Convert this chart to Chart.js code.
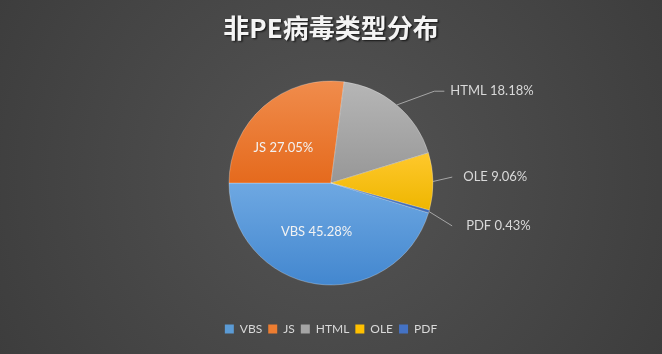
<!DOCTYPE html>
<html><head><meta charset="utf-8">
<script src="https://cdn.jsdelivr.net/npm/chart.js@4/dist/chart.umd.min.js"></script>
<style>html,body{margin:0;padding:0;background:#444;}#wrap{width:662px;height:354px;position:relative;}</style>
</head><body><div id="wrap"><canvas id="c" width="662" height="354"></canvas></div>
<script>
const titleText = '非PE病毒类型分布';
const categories = ['VBS', 'JS', 'HTML', 'OLE', 'PDF'];
const values = [45.28, 27.05, 18.18, 9.06, 0.43];
const baseColors = ['#5b9bd5', '#ed7d31', '#a5a5a5', '#ffc000', '#4472c4'];
const topColors = ['#6ea8e2', '#f08c4c', '#b6b6b6', '#ffc82c', '#4a7bcc'];
const bottomColors = ['#4387cf', '#e56a1d', '#979797', '#eeb600', '#3d68b5'];
// label placement: inside (angle deg, fraction of radius) or outside (angle deg, fraction of radius, elbow)
const labelPlace = [
  {inside: true, ang: 196.5, k: 0.50},
  {inside: true, ang: 306.4, k: 0.58},
  {inside: false, ang: 51.0, k: 1.43, elbow: 10, gap: 6},
  {inside: false, ang: 87.2, k: 1.19, elbow: 0, gap: 11},
  {inside: false, ang: 109.5, k: 1.26, elbow: 0, gap: 14}
];
const ROT = 107;
const RADIUS = 102;

function sliceGradient(ctx) {
  const chart = ctx.chart;
  const i = ctx.dataIndex;
  const ca = chart.chartArea;
  if (!ca || i === undefined) return baseColors[i] || '#888';
  const cx = (ca.left + ca.right) / 2, cy = (ca.top + ca.bottom) / 2;
  const total = values.reduce((a, b) => a + b, 0);
  let a0 = (ROT - 90) * Math.PI / 180;
  for (let j = 0; j < i; j++) a0 += values[j] / total * 2 * Math.PI;
  const a1 = a0 + values[i] / total * 2 * Math.PI;
  const ys = [cy, cy + RADIUS * Math.sin(a0), cy + RADIUS * Math.sin(a1)];
  const norm = a => { let x = a % (2 * Math.PI); if (x < 0) x += 2 * Math.PI; return x; };
  const inArc = t => { const d = norm(t - a0); return d <= (a1 - a0); };
  if (inArc(-Math.PI / 2)) ys.push(cy - RADIUS);
  if (inArc(Math.PI / 2)) ys.push(cy + RADIUS);
  const y0 = Math.min(...ys), y1 = Math.max(...ys);
  const g = chart.ctx.createLinearGradient(0, y0, 0, Math.max(y1, y0 + 1));
  g.addColorStop(0, topColors[i]);
  g.addColorStop(1, bottomColors[i]);
  return g;
}

const bgPlugin = {
  id: 'bg',
  beforeDraw(chart) {
    const c = chart.ctx, w = chart.width, h = chart.height;
    c.save();
    const g = c.createRadialGradient(w / 2, h / 2, 0, w / 2, h / 2, Math.max(w, h) * 0.62);
    g.addColorStop(0, '#545454');
    g.addColorStop(1, '#3b3b3b');
    c.fillStyle = g;
    c.fillRect(0, 0, w, h);
    c.font = 'bold 26px "Noto Sans CJK SC"';
    c.textAlign = 'center';
    c.textBaseline = 'middle';
    c.shadowColor = 'rgba(0,0,0,0.7)';
    c.shadowOffsetX = 1.5; c.shadowOffsetY = 1.5; c.shadowBlur = 2;
    c.fillStyle = '#f4f4f4';
    c.fillText(titleText, w / 2, 28);
    c.restore();
  }
};

const labelPlugin = {
  id: 'sliceLabels',
  afterDatasetsDraw(chart) {
    const c = chart.ctx;
    const meta = chart.getDatasetMeta(0);
    c.save();
    c.font = '13px Lato';
    c.textBaseline = 'middle';
    meta.data.forEach((arc, i) => {
      const p = labelPlace[i];
      const txt = categories[i] + ' ' + values[i].toFixed(2) + '%';
      const cx = arc.x, cy = arc.y, r = arc.outerRadius;
      const ang = p.ang * Math.PI / 180;
      if (p.inside) {
        c.fillStyle = '#f2f2f2';
        c.textAlign = 'center';
        c.fillText(txt, cx + r * p.k * Math.sin(ang), cy - r * p.k * Math.cos(ang));
      } else {
        const mid = (arc.startAngle + arc.endAngle) / 2;
        const sx = cx + r * Math.cos(mid), sy = cy + r * Math.sin(mid);
        const ex = cx + r * p.k * Math.sin(ang), ey = cy - r * p.k * Math.cos(ang);
        c.strokeStyle = '#a6a6a6';
        c.lineWidth = 1;
        c.beginPath();
        c.moveTo(sx, sy);
        c.lineTo(ex - p.elbow, ey);
        c.lineTo(ex, ey);
        c.stroke();
        c.fillStyle = '#d9d9d9';
        c.textAlign = 'left';
        c.fillText(txt, ex + p.gap, ey);
      }
    });
    c.restore();
  }
};

new Chart(document.getElementById('c'), {
  type: 'pie',
  data: {
    labels: categories,
    datasets: [{
      data: values,
      backgroundColor: sliceGradient,
      borderColor: 'rgba(255,255,255,0.35)',
      borderWidth: 0.75
    }]
  },
  options: {
    responsive: false,
    animation: false,
    rotation: ROT,
    radius: RADIUS,
    layout: {padding: {top: 49, bottom: 9, left: 0, right: 0}},
    plugins: {
      tooltip: {enabled: false},
      title: {display: false},
      legend: {
        position: 'bottom',
        labels: {
          color: '#d9d9d9',
          font: {family: 'Lato', size: 12},
          boxWidth: 9,
          boxHeight: 9,
          padding: 6,
          generateLabels: (chart) => categories.map((name, i) => ({
            text: name,
            fillStyle: baseColors[i],
            strokeStyle: baseColors[i],
            lineWidth: 0,
            fontColor: '#d9d9d9',
            hidden: false,
            index: i
          }))
        }
      }
    }
  },
  plugins: [bgPlugin, labelPlugin]
});
</script>
</body></html>
